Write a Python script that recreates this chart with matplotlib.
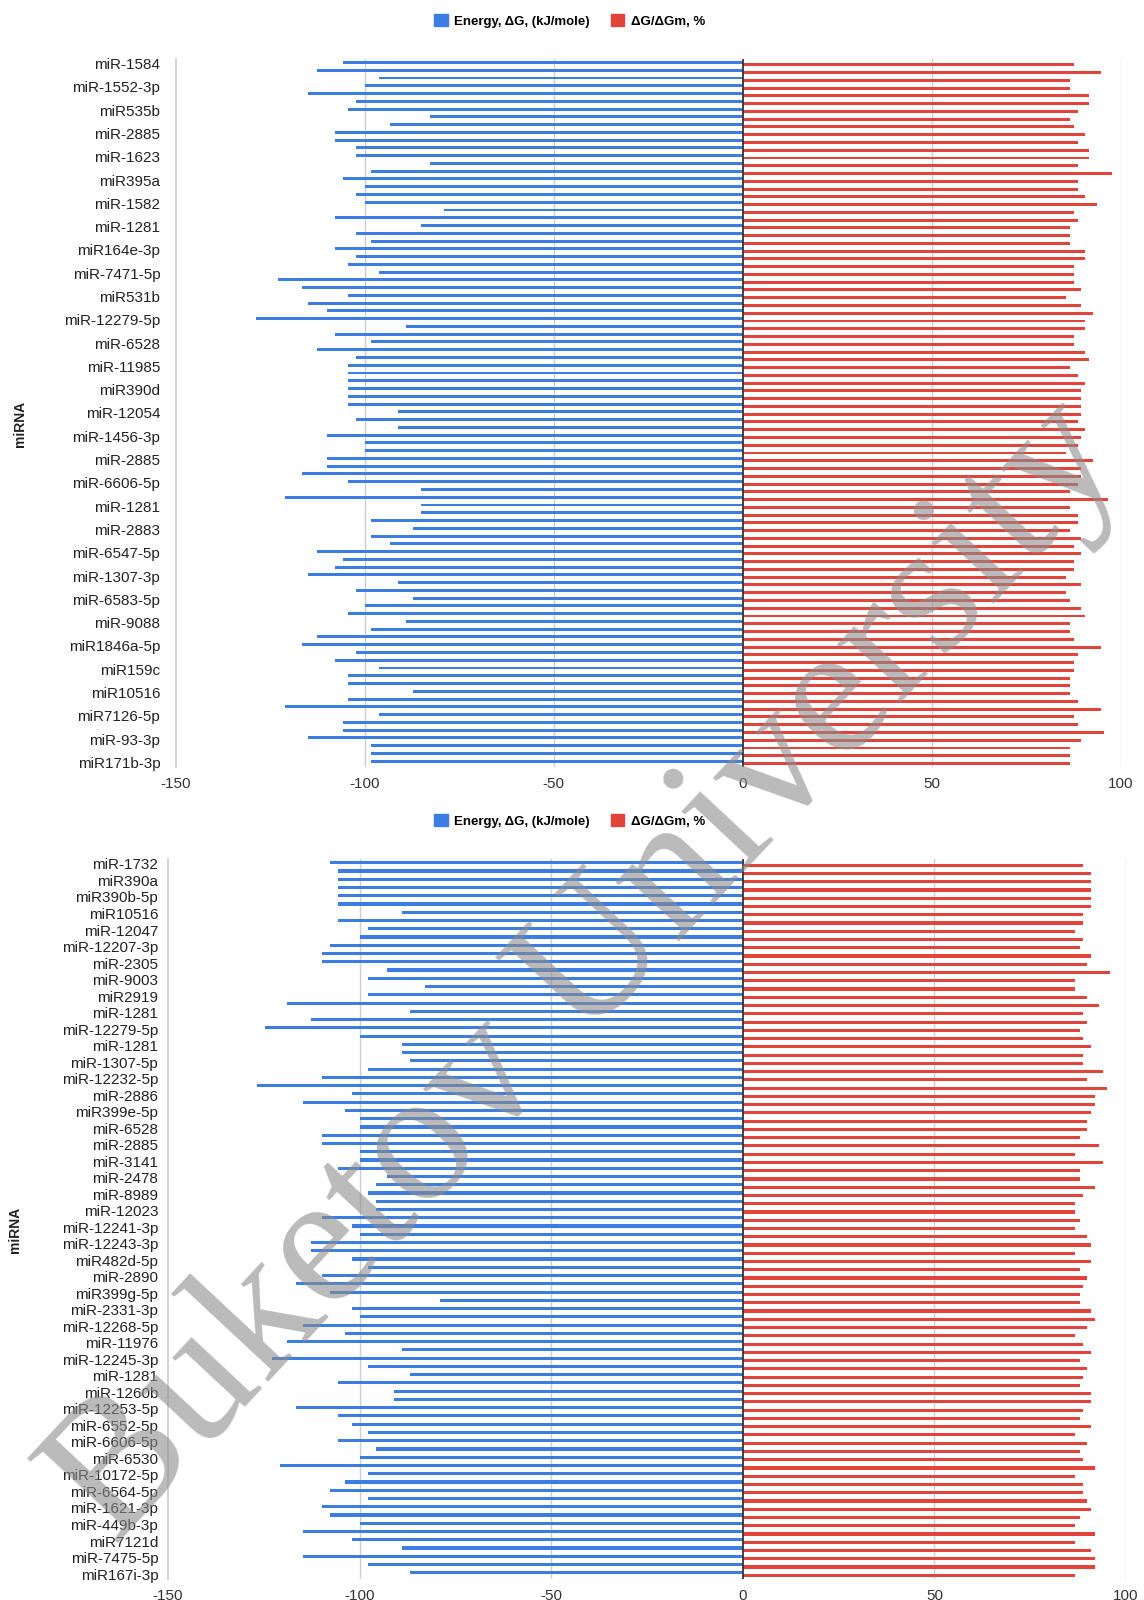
import numpy as np
import matplotlib
matplotlib.use("Agg")
import matplotlib.pyplot as plt
from matplotlib.patches import Patch

plt.rcParams['font.family'] = ['Liberation Sans', 'DejaVu Sans']

# ---- top panel data (91 miRNAs, every 3rd labelled) ----
top_labels = ["miR-1584", "miR-1552-3p", "miR535b", "miR-2885", "miR-1623", "miR395a",
              "miR-1582", "miR-1281", "miR164e-3p", "miR-7471-5p", "miR531b", "miR-12279-5p",
              "miR-6528", "miR-11985", "miR390d", "miR-12054", "miR-1456-3p", "miR-2885",
              "miR-6606-5p", "miR-1281", "miR-2883", "miR-6547-5p", "miR-1307-3p", "miR-6583-5p",
              "miR-9088", "miR1846a-5p", "miR159c", "miR10516", "miR7126-5p", "miR-93-3p",
              "miR171b-3p"]

top_energy = [-105.6, -112.6, -96.1, -99.9, -114.9, -102.2, -104.3, -82.8, -93.3, -107.8,
              -107.8, -102.2, -102.2, -82.8, -98.2, -105.6, -99.9, -102.2, -99.9, -78.9,
              -107.8, -85.0, -102.2, -98.2, -107.8, -102.2, -104.3, -96.1, -122.8, -116.5,
              -104.3, -114.9, -109.9, -128.8, -88.9, -107.8, -98.2, -112.6, -102.2, -104.3,
              -104.3, -104.3, -104.3, -104.3, -104.3, -91.1, -102.2, -91.1, -109.9, -99.9,
              -99.9, -109.9, -109.9, -116.5, -104.3, -85.0, -120.9, -85.0, -85.0, -98.2,
              -87.2, -98.2, -93.3, -112.6, -105.6, -107.8, -114.9, -91.1, -102.2, -87.2,
              -99.9, -104.3, -88.9, -98.2, -112.6, -116.5, -102.2, -107.8, -96.1, -104.3,
              -104.3, -87.2, -104.3, -120.9, -96.1, -105.6, -105.6, -114.9, -98.2, -98.2,
              -98.2]

top_ratio = [87.7, 94.9, 86.6, 86.6, 91.7, 91.7, 88.7, 86.6, 87.7, 90.7,
             88.7, 91.7, 91.7, 88.7, 97.8, 88.7, 88.7, 90.7, 93.8, 87.7,
             88.7, 86.6, 86.6, 86.6, 90.7, 90.7, 87.7, 87.7, 87.7, 89.6,
             85.6, 89.6, 92.8, 90.7, 90.7, 87.7, 87.7, 90.7, 91.7, 86.6,
             88.7, 90.7, 89.6, 89.6, 89.6, 89.6, 88.7, 90.7, 89.6, 88.7,
             85.6, 92.8, 89.6, 89.6, 88.7, 86.6, 96.7, 86.6, 88.7, 88.7,
             86.6, 89.6, 87.7, 89.6, 87.7, 87.7, 85.6, 89.6, 85.6, 86.6,
             89.6, 90.7, 86.6, 86.6, 87.7, 94.9, 88.7, 87.7, 87.7, 86.6,
             86.6, 86.6, 88.7, 94.9, 87.7, 88.7, 95.6, 89.6, 86.6, 86.6,
             86.6]

# ---- bottom panel data (87 miRNAs, every 2nd labelled) ----
bottom_labels = ["miR-1732", "miR390a", "miR390b-5p", "miR10516", "miR-12047", "miR-12207-3p",
                 "miR-2305", "miR-9003", "miR2919", "miR-1281", "miR-12279-5p", "miR-1281",
                 "miR-1307-5p", "miR-12232-5p", "miR-2886", "miR399e-5p", "miR-6528", "miR-2885",
                 "miR-3141", "miR-2478", "miR-8989", "miR-12023", "miR-12241-3p", "miR-12243-3p",
                 "miR482d-5p", "miR-2890", "miR399g-5p", "miR-2331-3p", "miR-12268-5p", "miR-11976",
                 "miR-12245-3p", "miR-1281", "miR-1260b", "miR-12253-5p", "miR-6552-5p", "miR-6606-5p",
                 "miR-6530", "miR-10172-5p", "miR-6564-5p", "miR-1621-3p", "miR-449b-3p", "miR7121d",
                 "miR-7475-5p", "miR167i-3p"]

bottom_energy = [-107.8, -105.7, -105.7, -105.7, -105.7, -105.7, -88.9, -105.7, -97.9, -100.0,
                 -107.8, -109.7, -109.7, -92.8, -97.9, -82.9, -97.9, -118.9, -86.8, -112.8,
                 -124.8, -100.0, -88.9, -88.9, -86.8, -97.9, -109.7, -126.9, -102.0, -114.8,
                 -103.8, -99.9, -99.9, -109.7, -109.7, -99.9, -99.9, -105.7, -92.8, -95.8,
                 -97.9, -95.8, -95.8, -109.7, -102.0, -99.9, -112.8, -112.8, -102.0, -97.9,
                 -109.7, -116.7, -107.8, -79.0, -102.0, -99.9, -114.8, -103.8, -118.9, -88.9,
                 -122.8, -97.9, -86.8, -105.7, -90.9, -90.9, -116.7, -105.7, -102.0, -97.9,
                 -105.7, -95.8, -99.9, -120.9, -97.9, -103.8, -107.8, -97.9, -109.7, -107.8,
                 -99.9, -114.8, -102.0, -88.9, -114.8, -97.9, -86.8]

bottom_ratio = [88.9, 90.8, 90.8, 90.8, 90.8, 90.8, 88.9, 88.9, 86.8, 88.9,
                87.9, 90.8, 89.8, 95.9, 86.8, 86.8, 89.8, 92.9, 88.9, 89.8,
                87.9, 88.9, 90.8, 88.9, 88.9, 94.0, 89.8, 95.0, 91.9, 91.9,
                90.8, 89.8, 89.8, 87.9, 92.9, 86.8, 94.0, 87.9, 87.9, 91.9,
                88.9, 86.8, 86.8, 87.9, 86.8, 89.8, 90.8, 86.8, 90.8, 87.9,
                89.8, 88.9, 87.9, 87.9, 90.8, 91.9, 89.8, 86.8, 88.9, 90.8,
                87.9, 89.8, 88.9, 87.9, 90.8, 90.8, 88.9, 87.9, 90.8, 86.8,
                89.8, 87.9, 88.9, 91.9, 86.8, 88.9, 88.9, 89.8, 90.8, 87.9,
                86.8, 91.9, 86.8, 90.8, 91.9, 91.9, 86.8]

series_names = ["Energy, \u0394G, (kJ/mole)", "\u0394G/\u0394Gm, %"]
xticks = [-150, -100, -50, 0, 50, 100]

BLUE = "#3b7de2"
RED = "#e2433a"
W, H = 1144, 1600

fig = plt.figure(figsize=(W / 100, H / 100), dpi=100)


def panel(rect, energy, ratio, labels, step, ypad, legend_y, ylabel_xy):
    ax = fig.add_axes(rect)
    n = len(energy)
    y = np.arange(n)
    ax.barh(y - 0.15, energy, height=0.38, color=BLUE, zorder=3)
    ax.barh(y + 0.15, ratio, height=0.38, color=RED, zorder=3)
    ax.set_xlim(-150, 100)
    ax.set_ylim(n - 0.4, -0.6)
    ax.set_yticks(y[::step])
    ax.set_yticklabels(labels, fontsize=11, color="#222222")
    ax.set_xticks(xticks)
    ax.set_xticklabels([str(t) for t in xticks], fontsize=11, color="#333333")
    ax.tick_params(axis="y", length=0, pad=ypad)
    ax.tick_params(axis="x", length=0, pad=7)
    for gx in [-100, -50, 50, 100]:
        ax.axvline(gx, color="#cccccc", lw=1, zorder=1)
    ax.axvline(0, color="#333333", lw=1.3, zorder=4)
    for s in ["top", "bottom", "right"]:
        ax.spines[s].set_visible(False)
    ax.spines["left"].set_color("#cccccc")
    ax.spines["left"].set_linewidth(1.2)
    handles = [Patch(color=BLUE, label=series_names[0]),
               Patch(color=RED, label=series_names[1])]
    ax.legend(handles=handles, loc="center", bbox_to_anchor=(0.498, legend_y),
              bbox_transform=fig.transFigure, ncol=2, frameon=False,
              handlelength=1.0, handleheight=1.0, handletextpad=0.5,
              columnspacing=1.6, prop={"size": 9.5, "weight": "bold"})
    fig.text(ylabel_xy[0], ylabel_xy[1], "miRNA", rotation=90, fontsize=10,
             fontweight="bold", ha="center", va="center", color="#222222")
    return ax


# top panel: x -150..100 spans 175.5..1120.5 px, y 59..767 px
panel([175.5 / W, 1 - 767 / H, 945 / W, 708 / H], top_energy, top_ratio,
      top_labels, 3, 11, 1 - 21 / H, (20 / W, 1 - 424 / H))
# bottom panel: x 168..1126 px, y 859..1579 px
panel([168 / W, 1 - 1579 / H, 958 / W, 720 / H], bottom_energy, bottom_ratio,
      bottom_labels, 2, 7, 1 - 821 / H, (15 / W, 1 - 1230 / H))

# diagonal watermark over the figure
fig.text(588 / W, 1 - 972 / H, "Buketov University", rotation=47, fontsize=136,
         family=["Liberation Serif", "DejaVu Serif"], color="#8c8c8c", alpha=0.6,
         ha="center", va="center", rotation_mode="anchor", zorder=10)

fig.savefig("out.png", dpi=100)
